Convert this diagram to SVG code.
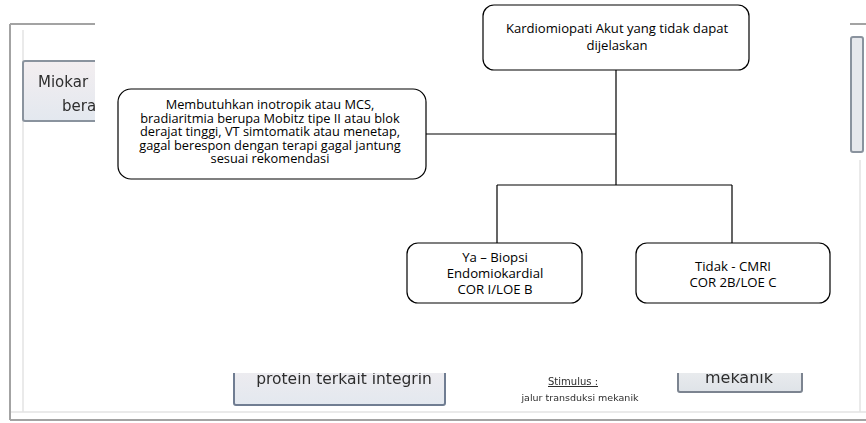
<svg xmlns="http://www.w3.org/2000/svg" width="866" height="423" viewBox="0 0 866 423">
  <defs>
    <style>
      .node rect { fill: #ffffff; stroke: #000000; stroke-width: 1.2; }
      .node text { font-family: "Open Sans", "Liberation Sans", sans-serif; font-size: 12.8px; fill: #000000; text-anchor: middle; }
      .node.head text { font-size: 13.1px; }
      .node.small text { font-size: 13.2px; }
      .wire { fill: none; stroke: #000000; stroke-width: 1.2; }
      .frame { fill: none; stroke: #a3a3a3; stroke-width: 2; }
      .faint { fill: none; stroke: #e4e4e4; stroke-width: 1.5; }
      .pane { stroke: #8a939e; stroke-width: 2; }
      .bgtext { font-family: "DejaVu Sans", "Liberation Sans", sans-serif; fill: #2e2e2e; }
    </style>
    <filter id="soft" x="-5%" y="-5%" width="110%" height="110%">
      <feGaussianBlur stdDeviation="0.7"/>
    </filter>
    <linearGradient id="paneFill" x1="0" y1="0" x2="0" y2="1">
      <stop offset="0" stop-color="#f3eef0"/>
      <stop offset="1" stop-color="#e3e8ef"/>
    </linearGradient>
    <linearGradient id="keyFill" x1="0" y1="0" x2="0" y2="1">
      <stop offset="0" stop-color="#f4f4f4"/>
      <stop offset="1" stop-color="#dfe3e8"/>
    </linearGradient>
  </defs>

  <rect x="0" y="0" width="866" height="423" fill="#ffffff"/>

  <!-- underlying slide, softened -->
  <g id="backdrop" filter="url(#soft)">
    <path class="faint" d="M23,30 V412 M10,412 H866 M860,160 V412"/>
    <path class="frame" d="M10,24 V420 M10,24 H120 M850,24 H866 M10,420 H866"/>
    <rect class="pane" x="23" y="61" width="110" height="60" rx="2" fill="url(#paneFill)"/>
    <text class="bgtext" x="38" y="87" font-size="15">Miokar</text>
    <text class="bgtext" x="62" y="111" font-size="15">bera</text>
    <rect class="pane" x="851" y="37" width="12" height="115" rx="2" fill="#e6e8ec"/>
    <rect x="234" y="350" width="211" height="55" rx="2" fill="url(#paneFill)" stroke="#6f7d92" stroke-width="2"/>
    <text class="bgtext" x="344" y="384" font-size="15.5" text-anchor="middle">protein terkait integrin</text>
    <rect x="678" y="350" width="124" height="42" rx="2" fill="url(#keyFill)" stroke="#7c8490" stroke-width="2"/>
    <text class="bgtext" x="739" y="383" font-size="16" text-anchor="middle">mekanik</text>
    <text class="bgtext" x="548" y="385" font-size="10" fill="#6a6fb8" text-decoration="underline">Stimulus :</text>
    <text class="bgtext" x="580" y="401" font-size="9.5" text-anchor="middle">jalur transduksi mekanik</text>
  </g>

  <!-- white panel carrying the flowchart -->
  <rect x="95" y="0" width="755" height="373" fill="#ffffff"/>

  <g id="connectors">
    <path class="wire" d="M616,70 V185 M426,134 H616 M497,185 H732 M497,185 V243 M732,185 V243"/>
  </g>

  <g id="n-kardiomiopati" class="node head">
    <rect x="483" y="5" width="266" height="65" rx="11"/>
    <text x="617" y="33">Kardiomiopati Akut yang tidak dapat</text>
    <text x="617" y="50">dijelaskan</text>
  </g>

  <g id="n-kriteria" class="node">
    <rect x="118" y="89" width="308" height="90" rx="13"/>
    <text x="270" y="109">Membutuhkan inotropik atau MCS,</text>
    <text x="270" y="122.5">bradiaritmia berupa Mobitz tipe II atau blok</text>
    <text x="270" y="136">derajat tinggi, VT simtomatik atau menetap,</text>
    <text x="270" y="149.5">gagal berespon dengan terapi gagal jantung</text>
    <text x="270" y="163">sesuai rekomendasi</text>
  </g>

  <g id="n-ya" class="node small">
    <rect x="407" y="243" width="175" height="60" rx="11"/>
    <text x="495" y="262">Ya – Biopsi</text>
    <text x="495" y="278">Endomiokardial</text>
    <text x="495" y="294">COR I/LOE B</text>
  </g>

  <g id="n-tidak" class="node small">
    <rect x="636" y="243" width="194" height="60" rx="11"/>
    <text x="733" y="271">Tidak - CMRI</text>
    <text x="733" y="287">COR 2B/LOE C</text>
  </g>
</svg>
